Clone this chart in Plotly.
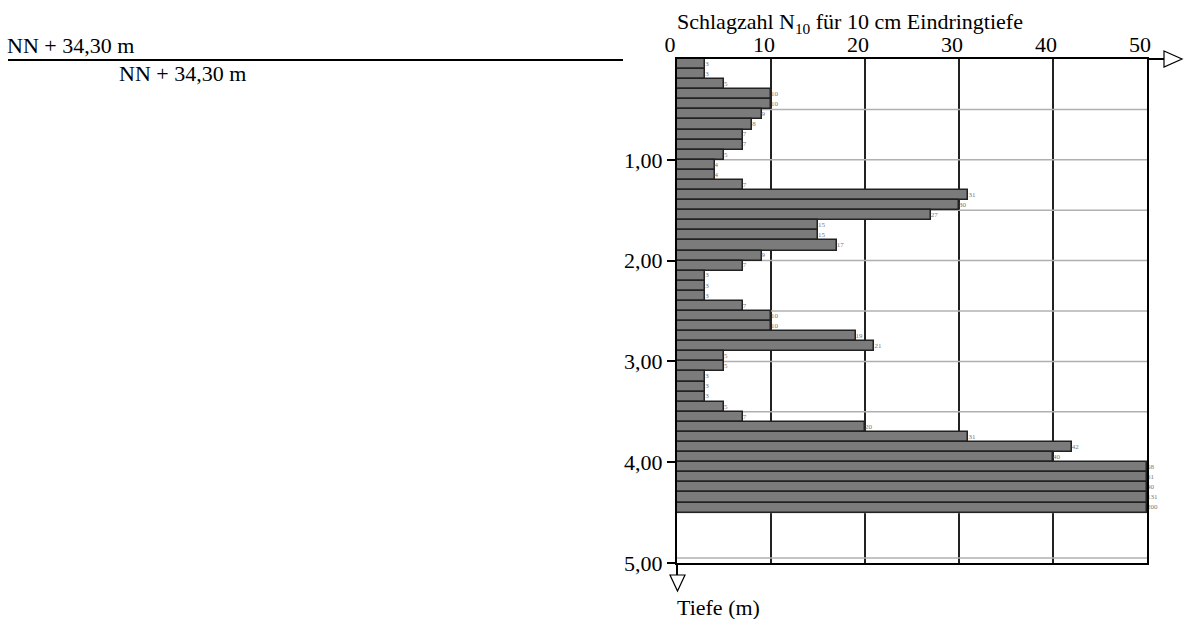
import plotly.graph_objects as go

# ---- data ----
depth_top = [round(i * 0.1, 1) for i in range(45)]  # m, 10 cm steps
blows = [3, 3, 5, 10, 10, 9, 8, 7, 7, 5,
         4, 4, 7, 31, 30, 27, 15, 15, 17, 9,
         7, 3, 3, 3, 7, 10, 10, 19, 21, 5,
         5, 3, 3, 3, 5, 7, 20, 31, 42, 40,
         58, 61, 90, 131, 200]
x_ticks = [0, 10, 20, 30, 40, 50]
x_ticktext = ["0", "10", "20", "30", "40", "50"]
y_ticks = [1, 2, 3, 4, 5]
y_ticktext = ["1,00", "2,00", "3,00", "4,00", "5,00"]
gray_lines = [0.5, 1.0, 1.5, 2.0, 2.5, 3.0, 3.5, 4.0, 4.5, 4.95]
x_max = 50
level_text = "NN + 34,30 m"

W, H = 1185, 619
L, R, T, B = 677, 1147, 59, 563
FONT = "Liberation Serif"
FS = 22


def px(x):
    return (x - L) / (R - L)


def py(y):
    return (B - y) / (B - T)


centers = [d + 0.05 for d in depth_top]
shown = [min(v, x_max) for v in blows]

fig = go.Figure()
fig.add_trace(go.Bar(
    orientation="h", y=centers, x=shown, width=0.1,
    marker=dict(color="#7b7b7b", line=dict(color="#222222", width=1.5)),
    hoverinfo="skip", showlegend=False))
fig.add_trace(go.Scatter(
    x=shown, y=centers, mode="text", text=[str(v) for v in blows],
    textposition="middle right",
    textfont=dict(family=FONT, size=7, color="#777777"),
    cliponaxis=False, hoverinfo="skip", showlegend=False))

shapes = []
for g in gray_lines:
    shapes.append(dict(type="line", xref="x", yref="y", x0=0, x1=x_max, y0=g, y1=g,
                       line=dict(color="#b0b0b0", width=1.5), layer="between"))
# top axis extension + arrow
shapes.append(dict(type="line", xref="paper", yref="paper", x0=1, x1=px(1166), y0=1, y1=1,
                   line=dict(color="black", width=2)))
shapes.append(dict(type="path", xref="paper", yref="paper",
                   path=f"M {px(1164)} {py(51)} L {px(1182)} {py(59)} L {px(1164)} {py(67)} Z",
                   line=dict(color="black", width=1.2), fillcolor="white"))
# left axis extension + arrow
shapes.append(dict(type="line", xref="paper", yref="paper", x0=0, x1=0, y0=0, y1=py(575),
                   line=dict(color="black", width=2)))
shapes.append(dict(type="path", xref="paper", yref="paper",
                   path=f"M {px(670)} {py(575)} L {px(685)} {py(575)} L {px(677.5)} {py(591)} Z",
                   line=dict(color="black", width=1.2), fillcolor="white"))
# level line on the left
shapes.append(dict(type="line", xref="paper", yref="paper", x0=px(8), x1=px(623),
                   y0=py(60), y1=py(60), line=dict(color="black", width=2)))

annotations = [
    dict(text="Schlagzahl N<sub>10</sub> für 10 cm Eindringtiefe", xref="paper", yref="paper",
         x=px(675), y=py(23), xanchor="left", yanchor="middle", showarrow=False,
         font=dict(family=FONT, size=FS, color="black")),
    dict(text="Tiefe (m)", xref="paper", yref="paper",
         x=px(675), y=py(607), xanchor="left", yanchor="middle", showarrow=False,
         font=dict(family=FONT, size=FS, color="black")),
    dict(text=level_text, xref="paper", yref="paper",
         x=px(5), y=py(45), xanchor="left", yanchor="middle", showarrow=False,
         font=dict(family=FONT, size=FS, color="black")),
    dict(text=level_text, xref="paper", yref="paper",
         x=px(117), y=py(73), xanchor="left", yanchor="middle", showarrow=False,
         font=dict(family=FONT, size=FS, color="black")),
]

fig.update_layout(
    width=W, height=H,
    margin=dict(l=L, r=W - R, t=T, b=H - B, pad=0),
    paper_bgcolor="white", plot_bgcolor="white",
    font=dict(family=FONT, size=FS, color="black"),
    bargap=0, shapes=shapes, annotations=annotations,
    xaxis=dict(side="top", range=[0, x_max], tickmode="array", tickvals=x_ticks,
               ticktext=x_ticktext, showgrid=True, gridcolor="#222222", gridwidth=1.5,
               showline=True, linecolor="black", linewidth=2, mirror=True,
               ticks="", ticklabelstandoff=-4, ticklabelshift=-7, zeroline=False,
               tickfont=dict(family=FONT, size=FS, color="black")),
    yaxis=dict(range=[5, 0], tickmode="array", tickvals=y_ticks, ticktext=y_ticktext,
               showgrid=False, showline=True, linecolor="black", linewidth=2, mirror=True,
               ticks="outside", ticklen=8, tickwidth=1.5, tickcolor="black",
               zeroline=False, tickfont=dict(family=FONT, size=FS, color="black")),
)

fig.write_html("out.html", config={"displayModeBar": False},
               post_script="document.body.style.margin='0px'; document.body.style.overflow='hidden';")
